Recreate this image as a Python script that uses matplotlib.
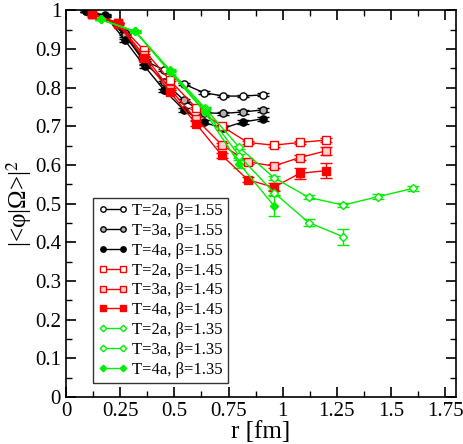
import numpy as np
import matplotlib
matplotlib.use('Agg')
import matplotlib.pyplot as plt
from matplotlib.ticker import MultipleLocator
from matplotlib.lines import Line2D

plt.rcParams['font.family'] = ['Liberation Serif', 'DejaVu Serif']
plt.rcParams['mathtext.fontset'] = 'stix'

# beta = 1.55 (black)
r155 = 0.0907 * np.arange(1, 11)
t2_155 = [0.998, 0.985, 0.94, 0.87, 0.845, 0.809, 0.787, 0.778, 0.778, 0.781]
t3_155 = [0.998, 0.985, 0.935, 0.865, 0.815, 0.767, 0.735, 0.733, 0.737, 0.742]
t4_155 = [0.998, 0.987, 0.922, 0.855, 0.793, 0.742, 0.710, 0.695, 0.711, 0.719]
e2_155 = [0.002, 0.002, 0.003, 0.003, 0.003, 0.003, 0.003, 0.003, 0.003, 0.004]
e3_155 = [0.002, 0.002, 0.003, 0.003, 0.003, 0.004, 0.004, 0.004, 0.005, 0.005]
e4_155 = [0.002, 0.002, 0.003, 0.004, 0.004, 0.004, 0.005, 0.005, 0.005, 0.006]

# beta = 1.45 (red)
r145 = 0.1198 * np.arange(1, 11)
t2_145 = [0.99, 0.968, 0.897, 0.819, 0.748, 0.700, 0.658, 0.651, 0.658, 0.664]
t3_145 = [0.99, 0.966, 0.884, 0.797, 0.719, 0.652, 0.608, 0.597, 0.619, 0.636]
t4_145 = [0.99, 0.965, 0.876, 0.789, 0.707, 0.625, 0.562, 0.542, 0.578, 0.585]
e2_145 = [0.002, 0.002, 0.003, 0.003, 0.003, 0.003, 0.004, 0.004, 0.005, 0.005]
e3_145 = [0.002, 0.002, 0.003, 0.003, 0.004, 0.004, 0.005, 0.006, 0.007, 0.010]
e4_145 = [0.002, 0.003, 0.004, 0.005, 0.006, 0.007, 0.006, 0.010, 0.015, 0.020]

# beta = 1.35 (green)
r135 = 0.16 * np.arange(1, 11)
t2_135 = [0.976, 0.945, 0.845, 0.748, 0.645, 0.567, 0.516, 0.496, 0.518, 0.539]
t3_135 = [0.976, 0.945, 0.843, 0.742, 0.623, 0.528, 0.451, 0.414]
t4_135 = [0.976, 0.945, 0.840, 0.737, 0.603, 0.494]
e2_135 = [0.002, 0.002, 0.003, 0.003, 0.004, 0.005, 0.005, 0.005, 0.006, 0.007]
e3_135 = [0.002, 0.002, 0.003, 0.004, 0.006, 0.006, 0.008, 0.020]
e4_135 = [0.002, 0.003, 0.004, 0.006, 0.010, 0.025]

green = '#00ee00'
series = [
    (r155, t2_155, e2_155, 'k', 'o', 'white', 'T=2a, β=1.55'),
    (r155, t3_155, e3_155, 'k', 'o', '#b0b0b0', 'T=3a, β=1.55'),
    (r155, t4_155, e4_155, 'k', 'o', 'k', 'T=4a, β=1.55'),
    (r145, t2_145, e2_145, 'red', 's', 'white', 'T=2a, β=1.45'),
    (r145, t3_145, e3_145, 'red', 's', '#ffd0d0', 'T=3a, β=1.45'),
    (r145, t4_145, e4_145, 'red', 's', 'red', 'T=4a, β=1.45'),
    (r135, t2_135, e2_135, green, 'D', 'white', 'T=2a, β=1.35'),
    (r135, t3_135, e3_135, green, 'D', 'white', 'T=3a, β=1.35'),
    (r135, t4_135, e4_135, green, 'D', green, 'T=4a, β=1.35'),
]

fig = plt.figure(figsize=(4.63, 4.44), dpi=100)
ax = fig.add_axes([0.1425, 0.106, 0.8425, 0.871])

handles = []
for r, y, e, c, m, fc, lab in series:
    ms = 4.4 if m == 'D' else 5.2
    ax.errorbar(r[:len(y)], y, yerr=e, color=c, marker=m, mfc=fc, mec=c,
                ms=ms, mew=1.0, lw=1.0, elinewidth=1.0, capsize=4)
    handles.append(Line2D([], [], color=c, marker=m, mfc=fc, mec=c,
                          ms=ms * 0.75, mew=1.0, lw=1.0, label=lab))

ax.set_xlim(0, 1.8)
ax.set_ylim(0, 1)
ax.set_xticks(np.arange(0, 1.76, 0.25))
ax.set_xticklabels(['0', '0.25', '0.5', '0.75', '1', '1.25', '1.5', '1.75'])
ax.set_yticks(np.arange(0, 1.01, 0.1))
ax.set_yticklabels(['0', '0.1', '0.2', '0.3', '0.4', '0.5', '0.6', '0.7', '0.8', '0.9', '1'])
ax.xaxis.set_minor_locator(MultipleLocator(0.125))
ax.yaxis.set_minor_locator(MultipleLocator(0.05))
ax.tick_params(which='both', direction='in', top=True, right=True, labelsize=15)
ax.tick_params(which='major', length=7, width=1.2)
ax.tick_params(which='minor', length=4, width=1.0)
for s in ax.spines.values():
    s.set_linewidth(1.2)

ax.set_xlabel('r [fm]', fontsize=18, labelpad=0)
ax.set_ylabel('|<φ|Ω>|$^2$', fontsize=18, labelpad=1)

leg = ax.legend(handles=handles, loc='lower left', bbox_to_anchor=(0.069, 0.036),
                fontsize=12, numpoints=2, handlelength=1.8, handletextpad=0.25,
                labelspacing=0.23, borderpad=0.32, frameon=True, fancybox=False,
                edgecolor='k', borderaxespad=0)
leg.get_frame().set_linewidth(1.0)

fig.savefig('out.png', dpi=100)
